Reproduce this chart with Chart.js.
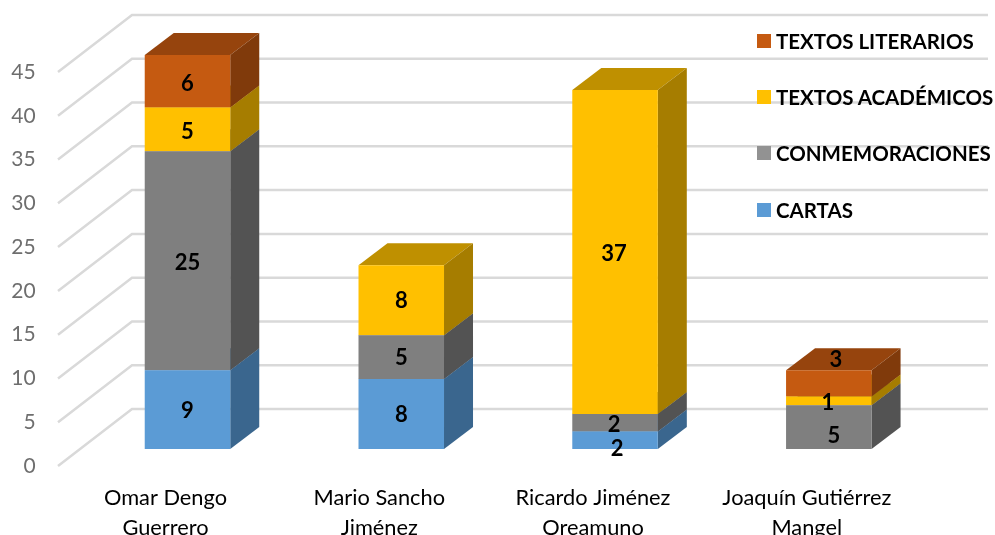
<!DOCTYPE html>
<html>
<head>
<meta charset="utf-8">
<title>Textos por autor</title>
<script src="https://cdn.jsdelivr.net/npm/chart.js@4/dist/chart.umd.min.js"></script>
<style>
    html, body { margin: 0; padding: 0; background: #fff; overflow: hidden; }
    #wrap { position: relative; width: 995px; height: 535px; }
    #legend div { position: absolute; left: 757px; height: 24px; line-height: 24px; white-space: nowrap;
        font: bold 20.5px Lato, sans-serif; color: #000; padding-left: 19px; }
    #legend i { position: absolute; left: 0; top: 5px; width: 14px; height: 14px; }
</style>
</head>
<body>
<div id="wrap">
    <canvas id="chart" width="995" height="535"></canvas>
    <div id="legend"></div>
</div>
<script>
const categories = [
    ['Omar Dengo', 'Guerrero'],
    ['Mario Sancho', 'Jiménez'],
    ['Ricardo Jiménez', 'Oreamuno'],
    ['Joaquín Gutiérrez', 'Mangel']
];
const cartas = [9, 8, 2, null];
const conmemoraciones = [25, 5, 2, 5];
const academicos = [5, 8, 37, 1];
const literarios = [6, null, null, 3];

const seriesNames = ['CARTAS', 'CONMEMORACIONES', 'TEXTOS ACADÉMICOS', 'TEXTOS LITERARIOS'];
const frontColors = ['#5B9BD5', '#7F7F7F', '#FFC000', '#C55A11'];
const sideColors = ['#3A668E', '#535353', '#A67D00', '#803A0B'];
const topColors = ['#4A7CAB', '#666666', '#BF9000', '#96440D'];
const legendColors = ['#5B9BD5', '#929292', '#FFC000', '#C55A11'];

// profundidad de las caras 3D
const depthX = 29;
const depthY = 22;

// etiquetas movidas a mano en el original: serie:categoria -> [dx, dy]
const labelNudges = {
    '3:0': [0, 3], '1:0': [0, 2], '2:0': [0, 2], '2:1': [0, 1],
    '0:2': [2, 9], '1:2': [-1, 2], '2:2': [-1, 2],
    '1:3': [5, 9], '2:3': [-1, 2], '3:3': [7, -23]
};

const fakeDepth = {
    id: 'fakeDepth',
    beforeDatasetsDraw(chart) {
        const { ctx, scales } = chart;
        ctx.save();

        // rejilla: suelo en diagonal y pared del fondo
        ctx.strokeStyle = '#D9D9D9';
        ctx.lineWidth = 2.5;
        scales.y.ticks.forEach(tick => {
            const y = scales.y.getPixelForValue(tick.value);
            ctx.beginPath();
            ctx.moveTo(58, y + 17);
            ctx.lineTo(132, y - 40);
            ctx.lineTo(988, y - 40);
            ctx.stroke();
        });

        // caras superior y lateral de cada tramo, de abajo hacia arriba
        chart.data.datasets.forEach((ds, d) => {
            chart.getDatasetMeta(d).data.forEach((bar, i) => {
                if (ds.data[i] == null) return;
                const { x, y, base, width } = bar.getProps(['x', 'y', 'base', 'width']);
                const left = x - width / 2;
                const right = x + width / 2;

                ctx.fillStyle = topColors[d];
                ctx.beginPath();
                ctx.moveTo(left, y);
                ctx.lineTo(left + depthX, y - depthY);
                ctx.lineTo(right + depthX, y - depthY);
                ctx.lineTo(right, y);
                ctx.closePath();
                ctx.fill();

                ctx.fillStyle = sideColors[d];
                ctx.beginPath();
                ctx.moveTo(right, y);
                ctx.lineTo(right + depthX, y - depthY);
                ctx.lineTo(right + depthX, base - depthY);
                ctx.lineTo(right, base);
                ctx.closePath();
                ctx.fill();
            });
        });
        ctx.restore();
    },
    afterDatasetsDraw(chart) {
        const { ctx } = chart;
        ctx.save();
        ctx.font = 'bold 22px Lato, sans-serif';
        ctx.fillStyle = '#000';
        ctx.textAlign = 'center';
        ctx.textBaseline = 'middle';
        chart.data.datasets.forEach((ds, d) => {
            chart.getDatasetMeta(d).data.forEach((bar, i) => {
                if (ds.data[i] == null) return;
                const { x, y, base } = bar.getProps(['x', 'y', 'base']);
                const nudge = labelNudges[d + ':' + i] || [0, 1];
                ctx.fillText(ds.data[i], x + nudge[0], (y + base) / 2 + nudge[1]);
            });
        });
        ctx.restore();
    }
};

new Chart(document.getElementById('chart').getContext('2d'), {
    type: 'bar',
    data: {
        labels: categories,
        datasets: [cartas, conmemoraciones, academicos, literarios].map((values, d) => ({
            label: seriesNames[d],
            data: values,
            backgroundColor: frontColors[d],
            borderWidth: 0,
            barPercentage: 1,
            categoryPercentage: 0.4
        }))
    },
    options: {
        responsive: false,
        animation: false,
        layout: { padding: { top: 55, right: 59.3, left: 0, bottom: 0 } },
        plugins: {
            legend: { display: false },
            tooltip: { enabled: false }
        },
        scales: {
            x: {
                stacked: true,
                grid: { display: false },
                border: { display: false },
                afterFit(scale) { scale.height = 86; },
                ticks: {
                    color: '#000',
                    font: { size: 21.8, family: 'Lato', lineHeight: 1.38 },
                    padding: 26,
                    labelOffset: -22,
                    autoSkip: false,
                    maxRotation: 0
                }
            },
            y: {
                stacked: true,
                min: 0,
                max: 45,
                grid: { display: false },
                border: { display: false },
                afterFit(scale) { scale.width = 80.6; },
                ticks: {
                    stepSize: 5,
                    color: '#6E6E6E',
                    font: { size: 21, family: 'Lato' },
                    padding: 37,
                    labelOffset: 17
                }
            }
        }
    },
    plugins: [fakeDepth]
});

// leyenda en HTML, en el mismo orden invertido del original
const legendTops = [198, 141, 85, 29];
seriesNames.forEach((name, d) => {
    const item = document.createElement('div');
    item.style.top = legendTops[d] + 'px';
    item.textContent = name;
    const box = document.createElement('i');
    box.style.background = legendColors[d];
    item.appendChild(box);
    document.getElementById('legend').appendChild(item);
});
</script>
</body>
</html>
